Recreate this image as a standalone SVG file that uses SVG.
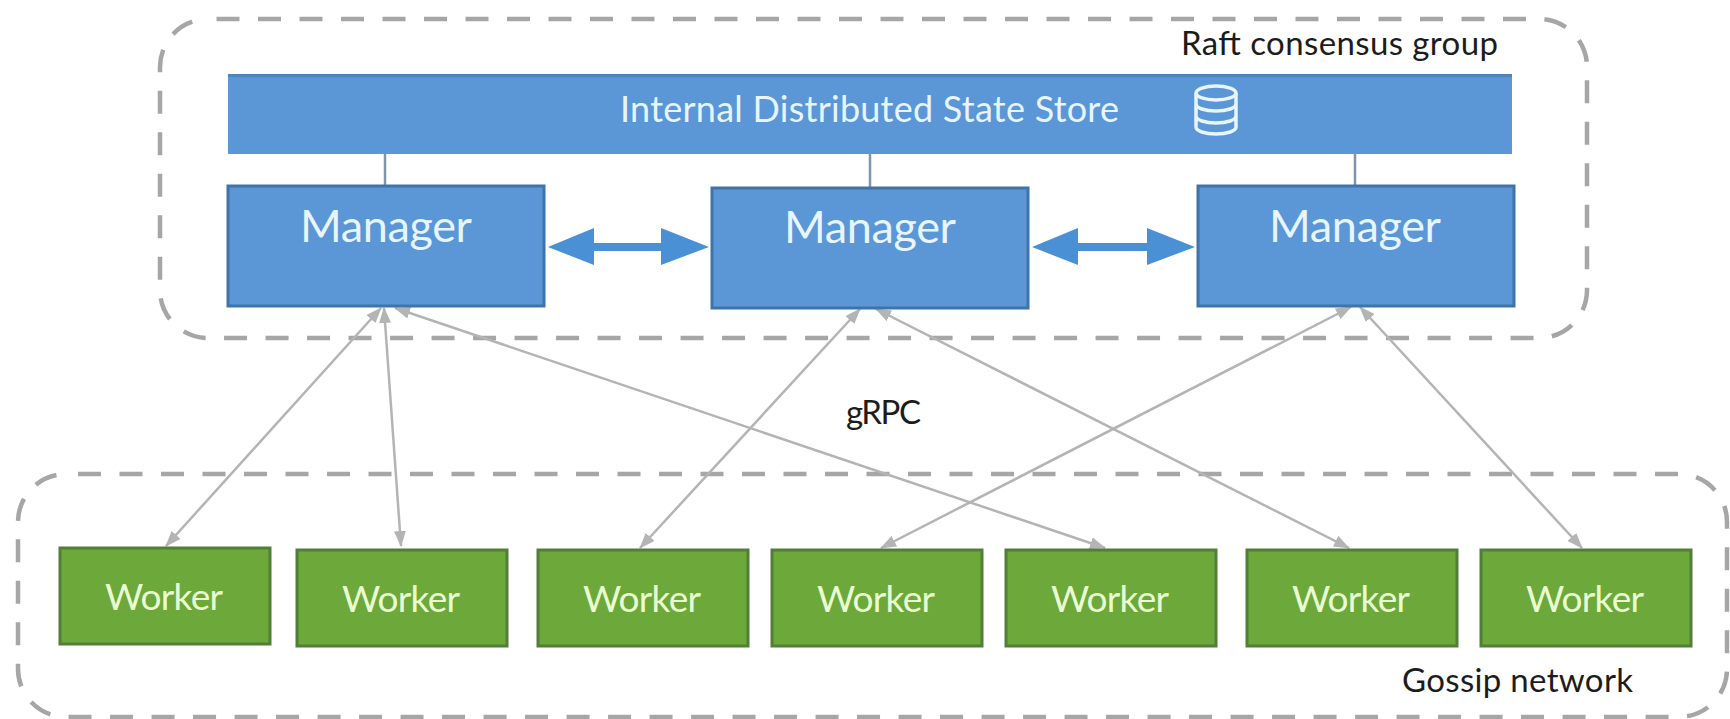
<svg xmlns="http://www.w3.org/2000/svg" width="1730" height="719" viewBox="0 0 1730 719">
<style>
text{font-family:Lato,"Open Sans","Liberation Sans",sans-serif}
.grp{fill:none;stroke:#a6a6a6;stroke-width:4.5;stroke-dasharray:23 18.5}
.m{fill:#5b96d6;stroke:#3f74a8;stroke-width:3}
.w{fill:#6ca83a;stroke:#527f38;stroke-width:3}
.mt{fill:#e6f5ff;font-size:45px;text-anchor:middle}
.wt{fill:#e9ffd2;font-size:37px;text-anchor:middle}
.lb{fill:#1c1c1c;font-size:33px}
.link{stroke:#7f94ad;stroke-width:2.5;fill:none}
.g{stroke:#b4b4b4;stroke-width:2.5;fill:none;marker-start:url(#ah);marker-end:url(#ah)}
.thick{fill:#4a90d4}
</style>
<defs>
<marker id="ah" viewBox="0 0 16 12" refX="15" refY="6" markerWidth="16" markerHeight="12" markerUnits="userSpaceOnUse" orient="auto-start-reverse"><path d="M0 0L16 6L0 12z" fill="#b4b4b4"/></marker>
</defs>
<rect width="1730" height="719" fill="#fff"/>
<g id="raft-group"><rect class="grp" x="160" y="19" width="1427" height="319" rx="48" stroke-dashoffset="-8.500"/><text class="lb" x="1181" y="55" textLength="317">Raft consensus group</text></g>
<g id="gossip-group"><rect class="grp" x="18" y="474" width="1709" height="243" rx="48" stroke-dashoffset="-12"/><text class="lb" x="1402" y="692" textLength="231">Gossip network</text></g>
<g id="connectors">
<path class="link" d="M385 154V185M870 154V187M1355 154V185"/>
<path class="thick" d="M548 247L594 228V243H661V228L709 247L661 265V251H594V265z"/>
<path class="thick" d="M1032 247L1078 228V243H1147V228L1195 247L1147 265V251H1078V265z"/>
<path class="g" d="M381 308L166 546"/>
<path class="g" d="M384 308L401 546"/>
<path class="g" d="M395 308L1105 548"/>
<path class="g" d="M860 309L640 548"/>
<path class="g" d="M876 309L1349 548"/>
<path class="g" d="M1351 307L881 548"/>
<path class="g" d="M1360 307L1582 548"/>
</g>
<g id="store"><rect x="228" y="74" width="1284" height="80" fill="#5b96d6"/><rect x="228" y="74" width="1284" height="3" fill="#4f86bf"/>
<text x="620" y="122" fill="#e6f5ff" font-size="36" textLength="499">Internal Distributed State Store</text>
<g fill="none" stroke="#e6f5ff" stroke-width="3.500"><ellipse cx="1216" cy="93" rx="20" ry="7"/><path d="M1196 93V127C1196 131 1205 134 1216 134S1236 131 1236 127V93M1196 104C1196 108 1205 111 1216 111S1236 108 1236 104M1196 116C1196 120 1205 123 1216 123S1236 120 1236 116"/></g></g>
<g id="manager1"><rect class="m" x="228" y="186" width="316" height="120"/><text class="mt" x="386" y="242" textLength="172">Manager</text></g>
<g id="manager2"><rect class="m" x="712" y="188" width="316" height="120"/><text class="mt" x="870" y="243" textLength="172">Manager</text></g>
<g id="manager3"><rect class="m" x="1198" y="186" width="316" height="120"/><text class="mt" x="1355" y="242" textLength="172">Manager</text></g>
<g id="worker1"><rect class="w" x="60" y="548" width="210" height="96"/><text class="wt" x="164" y="610" textLength="118">Worker</text></g>
<g id="worker2"><rect class="w" x="297" y="550" width="210" height="96"/><text class="wt" x="401" y="612" textLength="118">Worker</text></g>
<g id="worker3"><rect class="w" x="538" y="550" width="210" height="96"/><text class="wt" x="642" y="612" textLength="118">Worker</text></g>
<g id="worker4"><rect class="w" x="772" y="550" width="210" height="96"/><text class="wt" x="876" y="612" textLength="118">Worker</text></g>
<g id="worker5"><rect class="w" x="1006" y="550" width="210" height="96"/><text class="wt" x="1110" y="612" textLength="118">Worker</text></g>
<g id="worker6"><rect class="w" x="1247" y="550" width="210" height="96"/><text class="wt" x="1351" y="612" textLength="118">Worker</text></g>
<g id="worker7"><rect class="w" x="1481" y="550" width="210" height="96"/><text class="wt" x="1585" y="612" textLength="118">Worker</text></g>
<text id="grpc-label" class="lb" x="846" y="424" textLength="75">gRPC</text>
</svg>
